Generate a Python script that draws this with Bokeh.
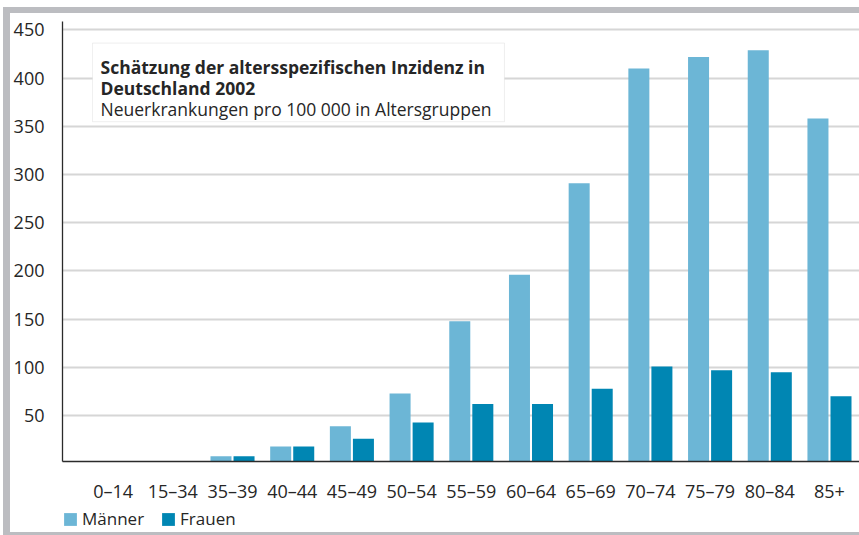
from bokeh.plotting import figure
from bokeh.models import (ColumnDataSource, FixedTicker, BoxAnnotation, Label,
                          Legend, LegendItem, Range1d)
from bokeh.layouts import column
from bokeh.transform import dodge
from bokeh.embed import file_html
from bokeh.resources import INLINE

# ---- data ----
categories = ["0–14", "15–34", "35–39", "40–44", "45–49", "50–54", "55–59",
              "60–64", "65–69", "70–74", "75–79", "80–84", "85+"]
maenner = [0, 0, 8, 18, 39, 73, 148, 196, 291, 410, 422, 429, 358]
frauen = [0, 0, 8, 18, 26, 43, 62, 62, 78, 101, 97, 95, 70]
y_ticks = [50, 100, 150, 200, 250, 300, 350, 400, 450]
series_names = ["Männer", "Frauen"]
title_line1 = "Schätzung der altersspezifischen Inzidenz in"
title_line2 = "Deutschland 2002"
subtitle = "Neuerkrankungen pro 100 000 in Altersgruppen"

MEN_COLOR = "#6cb6d6"
WOMEN_COLOR = "#0086b3"
FRAME_GRAY = "#bcbdc1"
FONT = "Open Sans"
TEXT_COLOR = "#262626"

idx = list(range(len(categories)))
source = ColumnDataSource(dict(idx=idx, cat=categories, m=maenner, f=frauen))

p = figure(width=849, height=492,
           x_range=Range1d(-0.848, 12.503), y_range=Range1d(2.44, 458.7),
           output_backend="svg", toolbar_location=None,
           min_border_left=52, min_border_right=0,
           min_border_top=8, min_border_bottom=36)
p.outline_line_color = None
p.background_fill_color = "white"
p.border_fill_color = "white"

p.vbar(x=dodge("idx", -0.193, range=p.x_range), top="m", bottom=0,
       width=0.352, source=source, fill_color=MEN_COLOR, line_color=None)
p.vbar(x=dodge("idx", 0.193, range=p.x_range), top="f", bottom=0,
       width=0.352, source=source, fill_color=WOMEN_COLOR, line_color=None)

# axes
p.xaxis.ticker = FixedTicker(ticks=idx)
p.xaxis.major_label_overrides = {i: c for i, c in zip(idx, categories)}
p.yaxis.ticker = FixedTicker(ticks=y_ticks)
for ax in (p.xaxis, p.yaxis):
    ax.major_tick_line_color = None
    ax.minor_tick_line_color = None
    ax.axis_line_color = "#2b2b2b"
    ax.axis_line_width = 1.3
    ax.major_label_text_font = FONT
    ax.major_label_text_font_size = "18px"
    ax.major_label_text_color = TEXT_COLOR
p.yaxis.major_label_standoff = 12
p.xaxis.major_label_standoff = 11

p.xgrid.grid_line_color = None
p.ygrid.ticker = FixedTicker(ticks=y_ticks)
p.ygrid.grid_line_color = "#d6d6d6"
p.ygrid.grid_line_width = 2

# annotation box with title
box = BoxAnnotation(left=-0.345, right=6.556, top=436.3, bottom=354.8,
                    fill_color="white", fill_alpha=1.0,
                    line_color="#c9c9c9", line_width=1)
p.add_layout(box)
for txt, yy, style in ((title_line1, 411.8, "bold"),
                       (title_line2, 389.4, "bold"),
                       (subtitle, 368.0, "normal")):
    p.add_layout(Label(x=-0.211, y=yy, text=txt, text_font=FONT,
                       text_font_size="17.5px", text_font_style=style,
                       text_color=TEXT_COLOR, text_baseline="alphabetic"))

# ---- legend strip (separate small figure below the chart) ----
lg = figure(width=849, height=27, x_range=Range1d(0, 1), y_range=Range1d(0, 1),
            output_backend="svg", toolbar_location=None,
            min_border_left=0, min_border_right=0,
            min_border_top=0, min_border_bottom=0)
lg.axis.visible = False
lg.grid.grid_line_color = None
lg.outline_line_color = None
lg.border_fill_color = "white"
lg.background_fill_color = "white"
# dummy, off-screen glyphs that only serve as legend swatches
dummy = ColumnDataSource(dict(x=[5], top=[1]))
lr_m = lg.vbar(x="x", top="top", width=0.1, source=dummy,
               fill_color=MEN_COLOR, line_color=None)
lr_f = lg.vbar(x="x", top="top", width=0.1, source=dummy,
               fill_color=WOMEN_COLOR, line_color=None)
legend = Legend(items=[LegendItem(label=series_names[0], renderers=[lr_m]),
                       LegendItem(label=series_names[1], renderers=[lr_f])],
                location=(0, 2), orientation="horizontal",
                glyph_width=16, glyph_height=16, label_standoff=4,
                spacing=16, padding=0, margin=0,
                border_line_color=None, background_fill_alpha=0,
                label_text_font=FONT, label_text_font_size="17px",
                label_text_color=TEXT_COLOR)
lg.add_layout(legend)

layout = column(p, lg, spacing=0, margin=(7, 0, 0, 3),
                styles={"background-color": "white",
                        "border-top": f"6px solid {FRAME_GRAY}",
                        "border-left": f"7px solid {FRAME_GRAY}",
                        "border-bottom": f"3px solid {FRAME_GRAY}"})

open("out.html", "w").write(file_html(layout, INLINE))
